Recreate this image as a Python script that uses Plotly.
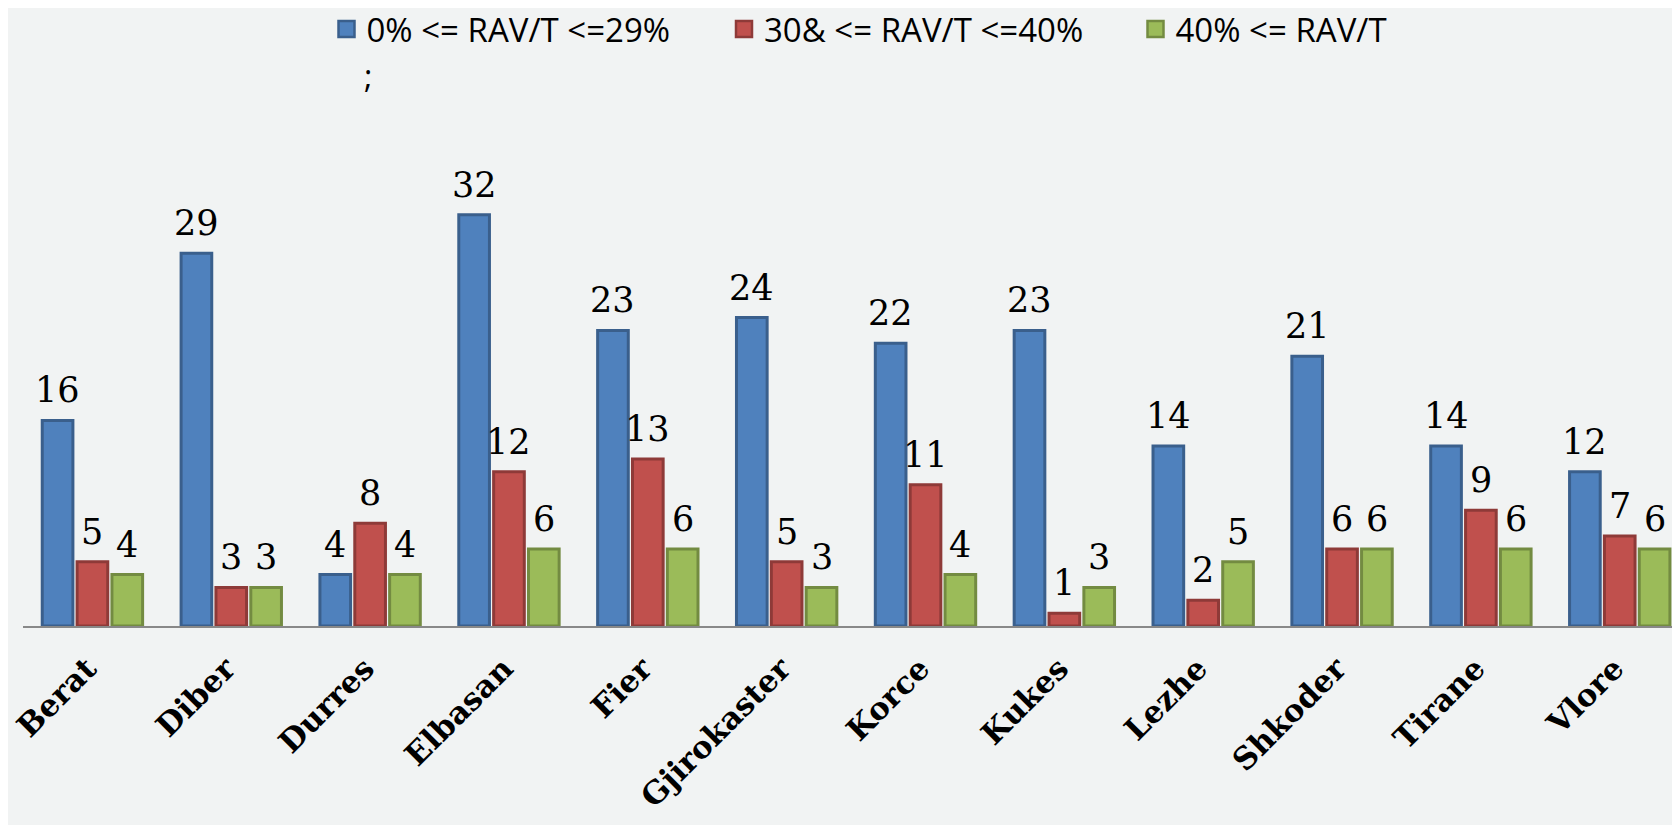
import plotly.graph_objects as go

categories = ["Berat", "Diber", "Durres", "Elbasan", "Fier", "Gjirokaster",
              "Korce", "Kukes", "Lezhe", "Shkoder", "Tirane", "Vlore"]
series_names = ["0% <= RAV/T <=29%", "30& <= RAV/T <=40%", "40% <= RAV/T"]
low_vals = [16, 29, 4, 32, 23, 24, 22, 23, 14, 21, 14, 12]
mid_vals = [5, 3, 8, 12, 13, 5, 11, 1, 2, 6, 9, 7]
high_vals = [4, 3, 4, 6, 6, 3, 4, 3, 5, 6, 6, 6]

fills = ["#4F81BD", "#C0504D", "#9BBB59"]
borders = ["#3A5F8C", "#8E3A38", "#738B41"]

# the page body adds an 8px offset; the figure is sized to fit the window
W, H = 1672, 817
PLOT_L, PLOT_T, PLOT_B = 15, 104, 199
plot_w = W - PLOT_L
plot_h = H - PLOT_T - PLOT_B
x_range = [-0.5, 11.434]
bargap = 0.247
px_per_cat = plot_w / (x_range[1] - x_range[0])
slot = px_per_cat * (1 - bargap) / 3
legend_px = [318.5, 716, 1127.5]
legend_ids = ["legend", "legend2", "legend3"]

fig = go.Figure()
annotations = []
for i, (name, vals, fc, bc) in enumerate(zip(series_names, [low_vals, mid_vals, high_vals], fills, borders)):
    fig.add_trace(go.Bar(
        x=categories, y=vals, name=name, showlegend=False,
        marker=dict(color=fc, line=dict(color=bc, width=3)),
        cliponaxis=False,
    ))
    # legend proxy with a larger square symbol
    fig.add_trace(go.Scatter(
        x=[None], y=[None], name=name, mode="markers", showlegend=True,
        legend=legend_ids[i],
        marker=dict(symbol="square", size=16, color=fc, line=dict(color=bc, width=2.5)),
    ))
    for c, v in zip(categories, vals):
        annotations.append(dict(
            x=c, y=v, xref="x", yref="y", text=str(v), showarrow=False,
            xanchor="center", yanchor="bottom", xshift=(i - 1) * slot, yshift=8,
            font=dict(family="DejaVu Serif", size=35, color="#000000"),
        ))

annotations.append(dict(text=";", xref="paper", yref="paper", x=(354 - PLOT_L) / plot_w,
                        y=1 + (PLOT_T - 67) / plot_h, xanchor="left", yanchor="middle",
                        showarrow=False, font=dict(family="Open Sans", size=32, color="#000000")))

legend_layouts = {}
for lid, lpx in zip(legend_ids, legend_px):
    legend_layouts[lid] = dict(
        orientation="h", x=(lpx - PLOT_L) / plot_w, xanchor="left",
        y=1 + (PLOT_T - 21) / plot_h, yanchor="middle", itemsizing="trace",
        font=dict(family="Open Sans", size=33, color="#000000"),
        bgcolor="rgba(0,0,0,0)",
    )

fig.update_layout(
    width=W, height=H,
    margin=dict(l=PLOT_L, r=0, t=PLOT_T, b=PLOT_B, autoexpand=False),
    paper_bgcolor="#f1f3f3", plot_bgcolor="rgba(0,0,0,0)",
    barmode="group", bargap=bargap, bargroupgap=0.12,
    showlegend=True,
    xaxis=dict(range=x_range, showgrid=False, showline=True, linecolor="#888888",
               linewidth=2, ticks="", tickangle=-45, automargin=False,
               ticklabelstandoff=10, ticklabelshift=-5,
               tickfont=dict(family="DejaVu Serif", size=31, color="#000000", weight="bold")),
    yaxis=dict(range=[0, 40], showgrid=False, showticklabels=False, zeroline=False,
               showline=False, ticks="", automargin=False),
    annotations=annotations,
    **legend_layouts,
)

fig.write_html("out.html")
